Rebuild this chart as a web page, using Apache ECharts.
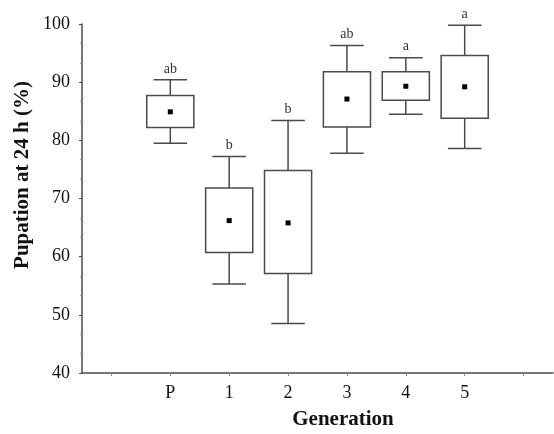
<!DOCTYPE html>
<html>
<head>
<meta charset="utf-8">
<script src="https://cdn.jsdelivr.net/npm/echarts@6/dist/echarts.min.js"></script>
<style>html,body{margin:0;padding:0;background:#fff;}#c{width:554px;height:434px;}</style>
</head>
<body>
<div id="c"></div>
<script>
var categories = ['', 'P', '1', '2', '3', '4', '5', ''];
var groups = ['P', '1', '2', '3', '4', '5'];
var whiskerLow = [79.5, 55.3, 48.5, 77.8, 84.5, 78.6];
var boxLow = [82.2, 60.7, 57.1, 82.3, 86.9, 83.8];
var means = [84.9, 66.2, 65.8, 87.1, 89.3, 89.2];
var boxHigh = [87.7, 71.8, 74.8, 91.8, 91.8, 94.6];
var whiskerHigh = [90.4, 77.2, 83.4, 96.3, 94.2, 99.8];
var letters = ['ab', 'b', 'b', 'ab', 'a', 'a'];
var yTicks = [40, 50, 60, 70, 80, 90, 100];

var data = groups.map(function (g, i) {
  return [categories.indexOf(g), whiskerLow[i], boxLow[i], means[i], boxHigh[i], whiskerHigh[i], letters[i]];
});

var lineColor = '#4a4a4a';
var chart = echarts.init(document.getElementById('c'), null, {renderer: 'canvas'});

function renderItem(params, api) {
  var xi = api.value(0);
  var band = api.size([1, 0])[0];
  var bw = band * 0.8;
  var cw = band * 0.57;
  var pWl = api.coord([xi, api.value(1)]);
  var pQ1 = api.coord([xi, api.value(2)]);
  var pM = api.coord([xi, api.value(3)]);
  var pQ3 = api.coord([xi, api.value(4)]);
  var pWh = api.coord([xi, api.value(5)]);
  var cx = pM[0];
  var ls = {stroke: lineColor, lineWidth: 1.5, fill: null};
  return {
    type: 'group',
    children: [
      {type: 'line', shape: {x1: cx, y1: pWh[1], x2: cx, y2: pQ3[1]}, style: ls},
      {type: 'line', shape: {x1: cx, y1: pQ1[1], x2: cx, y2: pWl[1]}, style: ls},
      {type: 'line', shape: {x1: cx - cw / 2, y1: pWh[1], x2: cx + cw / 2, y2: pWh[1]}, style: ls},
      {type: 'line', shape: {x1: cx - cw / 2, y1: pWl[1], x2: cx + cw / 2, y2: pWl[1]}, style: ls},
      {type: 'rect', shape: {x: cx - bw / 2, y: pQ3[1], width: bw, height: pQ1[1] - pQ3[1]}, style: {stroke: lineColor, lineWidth: 1.5, fill: '#fff'}},
      {type: 'rect', shape: {x: cx - 2.5, y: pM[1] - 2.5, width: 5, height: 5}, style: {fill: '#000'}},
      {type: 'text', x: cx, y: pWh[1] - 4, style: {text: api.value(6), fill: '#333', font: '14px "Liberation Serif"', align: 'center', verticalAlign: 'bottom'}}
    ]
  };
}

chart.setOption({
  backgroundColor: '#fff',
  animation: false,
  grid: {left: 82, right: 1, top: 24, bottom: 61, containLabel: false, outerBoundsMode: 'none'},
  xAxis: {
    type: 'category',
    data: categories,
    boundaryGap: true,
    axisLine: {show: true, lineStyle: {color: lineColor, width: 1.5}},
    axisTick: {show: true, alignWithLabel: true, interval: 0, length: 3, lineStyle: {color: '#888'}},
    axisLabel: {interval: 0, margin: 11, color: '#111', fontFamily: 'Liberation Serif', fontSize: 18},
    splitLine: {show: false}
  },
  yAxis: {
    type: 'value',
    min: 40, max: 100, interval: 10,
    axisLine: {show: true, lineStyle: {color: lineColor, width: 1.5}},
    axisTick: {show: true, length: 3, lineStyle: {color: lineColor}},
    minorTick: {show: true, splitNumber: 3, length: 2, lineStyle: {color: '#999'}},
    axisLabel: {margin: 12, color: '#111', fontFamily: 'Liberation Serif', fontSize: 18,
      formatter: function (v) { return yTicks.indexOf(v) >= 0 ? String(v) : ''; }},
    splitLine: {show: false}
  },
  graphic: [
    {type: 'text', x: 23, y: 175, rotation: Math.PI / 2,
      style: {text: 'Pupation at 24 h (%)', fill: '#111', font: 'bold 21px "Liberation Serif"', align: 'center', verticalAlign: 'middle'}},
    {type: 'text', x: 343, y: 420,
      style: {text: 'Generation', fill: '#111', font: 'bold 21px "Liberation Serif"', align: 'center', verticalAlign: 'middle'}}
  ],
  series: [{
    type: 'custom',
    renderItem: renderItem,
    encode: {x: 0, y: [1, 2, 3, 4, 5]},
    data: data
  }]
});
</script>
</body>
</html>
